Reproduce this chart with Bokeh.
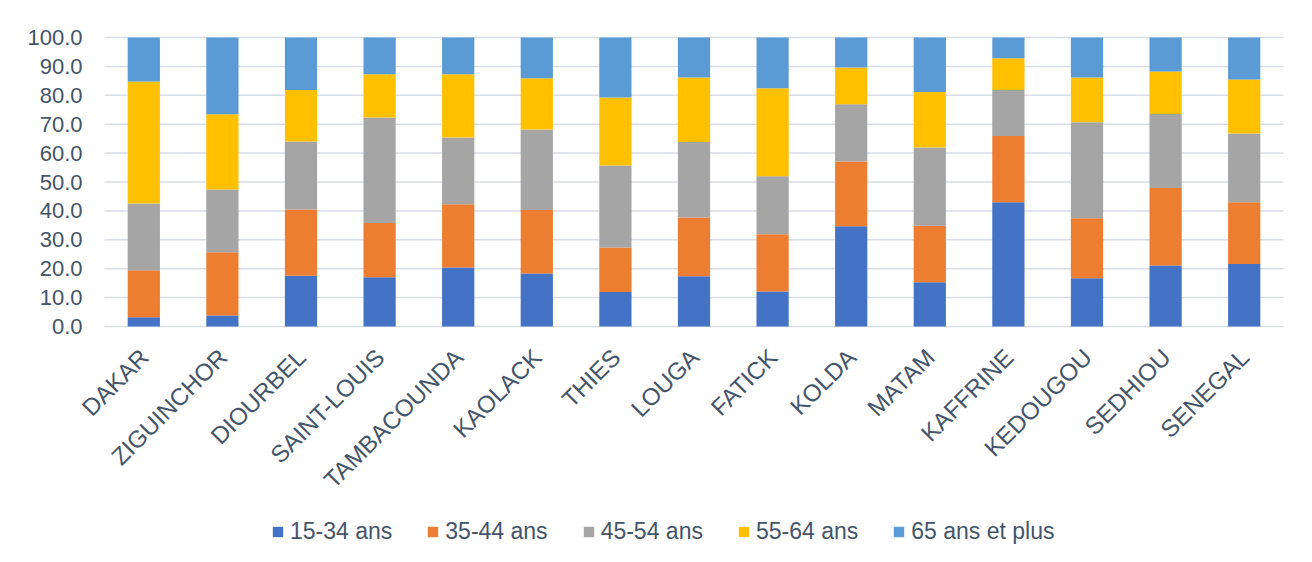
import math
from bokeh.plotting import figure
from bokeh.models import Range1d, Legend, LegendItem, ColumnDataSource
from bokeh.core.properties import value
from bokeh.embed import file_html
from bokeh.resources import INLINE

regions = ["DAKAR", "ZIGUINCHOR", "DIOURBEL", "SAINT-LOUIS", "TAMBACOUNDA", "KAOLACK",
           "THIES", "LOUGA", "FATICK", "KOLDA", "MATAM", "KAFFRINE", "KEDOUGOU",
           "SEDHIOU", "SENEGAL"]
age_15_34 = [3.2, 3.8, 17.6, 17.0, 20.4, 18.3, 11.9, 17.4, 12.1, 34.7, 15.3, 43.0, 16.7, 21.1, 21.6]
age_35_44 = [16.3, 21.9, 22.9, 18.8, 21.9, 22.0, 15.4, 20.3, 19.8, 22.4, 19.6, 22.9, 20.8, 26.8, 21.4]
age_45_54 = [23.1, 21.7, 23.5, 36.5, 23.1, 27.9, 28.4, 26.1, 20.1, 19.8, 27.0, 15.9, 33.2, 25.6, 23.8]
age_55_64 = [42.2, 26.0, 17.8, 15.0, 21.9, 17.7, 23.5, 22.4, 30.4, 12.7, 19.2, 11.0, 15.5, 14.7, 18.7]
age_65_plus = [15.2, 26.6, 18.2, 12.7, 12.7, 14.1, 20.8, 13.8, 17.6, 10.4, 18.9, 7.2, 13.8, 11.8, 14.5]

series_names = ["15-34 ans", "35-44 ans", "45-54 ans", "55-64 ans", "65 ans et plus"]
series_keys = ["a", "b", "c", "d", "e"]
colors = ["#4472c4", "#ed7d31", "#a5a5a5", "#ffc000", "#5b9bd5"]
y_ticks = [0, 10, 20, 30, 40, 50, 60, 70, 80, 90, 100]
y_tick_labels = ["0.0", "10.0", "20.0", "30.0", "40.0", "50.0", "60.0", "70.0", "80.0", "90.0", "100.0"]

n = len(regions)
idx = list(range(n))
source = ColumnDataSource(dict(idx=idx, region=regions, a=age_15_34, b=age_35_44, c=age_45_54,
                               d=age_55_64, e=age_65_plus))
tick_source = ColumnDataSource(dict(y=y_ticks, label=y_tick_labels))

text_color = "#44546a"
grid_color = "#d9dee6"
font = "Liberation Sans"

W, H = 1312, 562
plot_left, plot_right, plot_top, plot_bottom = 104, 1283, 37, 326
cat_px = (plot_right - plot_left) / n
x_start = -0.5 - plot_left / cat_px
x_end = n - 0.5 + (W - plot_right) / cat_px
y_max = 100
unit_px = (plot_bottom - plot_top) / y_max
y_start = -(H - plot_bottom) / unit_px
y_end = plot_bottom / unit_px

p = figure(x_range=Range1d(x_start, x_end), y_range=Range1d(y_start, y_end),
           width=W, height=H, output_backend="svg", toolbar_location=None,
           min_border=0, x_axis_type=None, y_axis_type=None)
p.outline_line_color = None
p.background_fill_color = "white"
p.border_fill_color = "white"
p.grid.visible = False

# horizontal gridlines
p.segment(x0=-0.5, x1=n - 0.5, y0="y", y1="y", source=tick_source,
          line_color=grid_color, line_width=1.5)

renderers = p.vbar_stack(series_keys, x="idx", width=0.41, source=source,
                         color=colors, line_color=None)

# value-axis labels
p.text(x=-0.5, y="y", text="label", source=tick_source, x_offset=-22,
       text_align="right", text_baseline="middle",
       text_font=value(font), text_font_size="22px", text_color=text_color)

# category labels, rotated 45 degrees, ending under each bar
p.text(x="idx", y=0, text="region", source=source, angle=math.pi / 4,
       text_align="right", text_baseline="top", x_offset=-9, y_offset=17,
       text_font=value(font), text_font_size="24px", text_color=text_color)

legend = Legend(items=[LegendItem(label=s, renderers=[r]) for s, r in zip(series_names, renderers)],
                orientation="horizontal", location=(271, 17),
                glyph_width=13, glyph_height=13, label_standoff=6, spacing=34,
                padding=0, margin=0, border_line_color=None, background_fill_alpha=0,
                label_text_font=font, label_text_font_size="23px", label_text_color=text_color)
p.add_layout(legend, "center")

open("out.html", "w").write(file_html(p, INLINE))
